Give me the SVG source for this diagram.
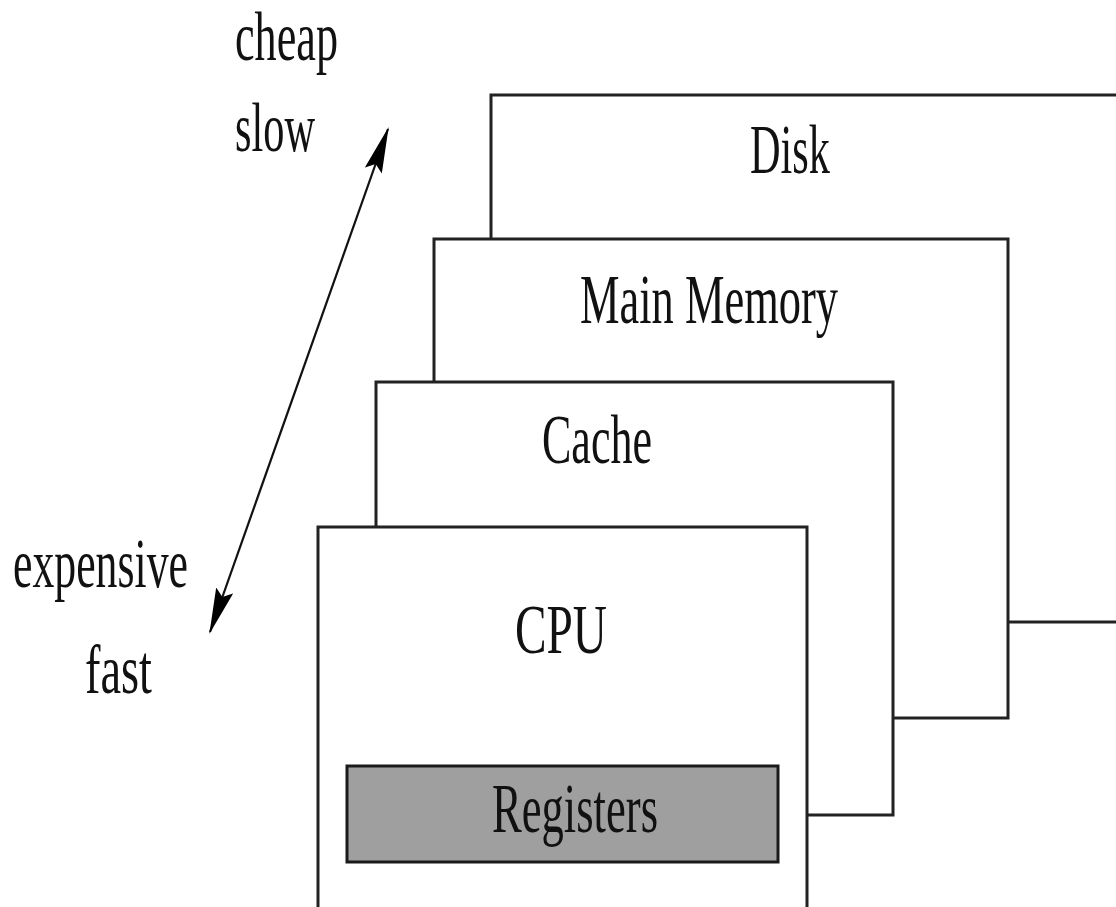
<svg xmlns="http://www.w3.org/2000/svg" width="1116" height="907" viewBox="0 0 1116 907">
  <defs>
    <style>
      .layer { fill: #ffffff; stroke: #222222; stroke-width: 3; }
      .reg { fill: #9f9f9f; stroke: #1a1a1a; stroke-width: 3; }
      .lbl { font-family: "Liberation Serif", "DejaVu Serif", serif; font-size: 70px; fill: #111111; }
      .axis { stroke: #111111; stroke-width: 2.2; fill: none; }
    </style>
    <marker id="head" viewBox="0 0 46 18" refX="44" refY="9" markerWidth="46" markerHeight="18" markerUnits="userSpaceOnUse" orient="auto-start-reverse">
      <path d="M0,0 L46,9 L0,18 L7,9 Z" fill="#000000"/>
    </marker>
  </defs>
  <rect width="1116" height="907" fill="#ffffff"/>

  <!-- speed / cost axis -->
  <g id="connectors">
    <line class="axis" x1="210" y1="632" x2="388" y2="129" marker-start="url(#head)" marker-end="url(#head)"/>
  </g>

  <g id="axis-labels">
    <text class="lbl" x="235" y="60" textLength="103" lengthAdjust="spacingAndGlyphs">cheap</text>
    <text class="lbl" x="235" y="151" textLength="80" lengthAdjust="spacingAndGlyphs">slow</text>
    <text class="lbl" x="13" y="587" textLength="175" lengthAdjust="spacingAndGlyphs">expensive</text>
    <text class="lbl" x="85" y="693" textLength="67" lengthAdjust="spacingAndGlyphs">fast</text>
  </g>

  <!-- memory hierarchy, back to front -->
  <g id="disk">
    <rect class="layer" x="491" y="95" width="700" height="527"/>
    <text class="lbl" x="750" y="173" textLength="80" lengthAdjust="spacingAndGlyphs">Disk</text>
  </g>
  <g id="main-memory">
    <rect class="layer" x="434" y="239" width="574" height="479"/>
    <text class="lbl" x="580" y="323" textLength="258" lengthAdjust="spacingAndGlyphs">Main Memory</text>
  </g>
  <g id="cache">
    <rect class="layer" x="376" y="382" width="517" height="433"/>
    <text class="lbl" x="542" y="463" textLength="110" lengthAdjust="spacingAndGlyphs">Cache</text>
  </g>
  <g id="cpu">
    <rect class="layer" x="318" y="527" width="489" height="420"/>
    <text class="lbl" x="515" y="653" textLength="92" lengthAdjust="spacingAndGlyphs">CPU</text>
  </g>
  <g id="registers">
    <rect class="reg" x="347" y="766" width="431" height="96"/>
    <text class="lbl" x="492" y="832" textLength="166" lengthAdjust="spacingAndGlyphs">Registers</text>
  </g>
</svg>
